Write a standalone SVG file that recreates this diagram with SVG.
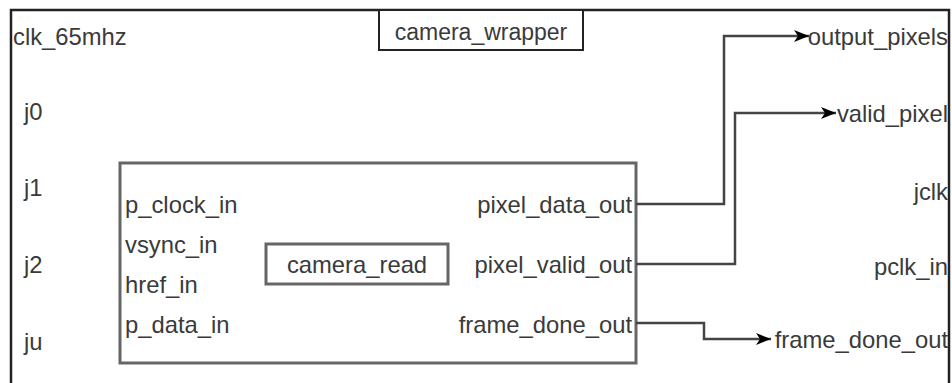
<svg xmlns="http://www.w3.org/2000/svg" width="952" height="383" viewBox="0 0 952 383">
<defs>
<style>
text{font-family:"Liberation Sans",Arial,sans-serif;font-size:23.8px;fill:#3a3a3a}
.e{text-anchor:end}
.m{text-anchor:middle}
.conn{fill:none;stroke:#444;stroke-width:2.5}
</style>
<marker id="arr" viewBox="0 0 15 12" refX="15" refY="6" markerWidth="15" markerHeight="12" markerUnits="userSpaceOnUse" orient="auto">
<path d="M0,0 L15,6 L0,12 L4,6 z" fill="#000"/>
</marker>
</defs>
<rect width="952" height="383" fill="#fff"/>
<g id="camera_wrapper">
<rect x="11" y="10" width="938" height="400" fill="#fff" stroke="#222" stroke-width="2.5"/>
<rect x="379" y="10" width="204" height="40" fill="#fff" stroke="#222" stroke-width="2"/>
<text class="m" x="481" y="40" style="font-size:23px">camera_wrapper</text>
<text x="13" y="45">clk_65mhz</text>
<text x="24" y="120">j0</text>
<text x="24" y="196">j1</text>
<text x="24" y="273">j2</text>
<text x="24" y="350">ju</text>
<text class="e" x="948" y="45">output_pixels</text>
<text class="e" x="948" y="122">valid_pixel</text>
<text class="e" x="948" y="200">jclk</text>
<text class="e" x="948" y="275">pclk_in</text>
<text class="e" x="948" y="348">frame_done_out</text>
</g>
<g id="camera_read">
<rect x="120" y="163" width="516" height="200" fill="#fff" stroke="#666" stroke-width="3"/>
<rect x="266" y="244" width="182" height="40" fill="#fff" stroke="#666" stroke-width="3"/>
<text class="m" x="357" y="273">camera_read</text>
<text x="125" y="213">p_clock_in</text>
<text x="125" y="253">vsync_in</text>
<text x="125" y="293">href_in</text>
<text x="125" y="333">p_data_in</text>
<text class="e" x="632" y="213">pixel_data_out</text>
<text class="e" x="632" y="273">pixel_valid_out</text>
<text class="e" x="632" y="333">frame_done_out</text>
</g>
<g id="connectors">
<path class="conn" d="M636 204 H724 V36 H809" marker-end="url(#arr)"/>
<path class="conn" d="M636 264 H735 V113 H836" marker-end="url(#arr)"/>
<path class="conn" d="M636 323 H704 V339 H771" marker-end="url(#arr)"/>
</g>
</svg>
